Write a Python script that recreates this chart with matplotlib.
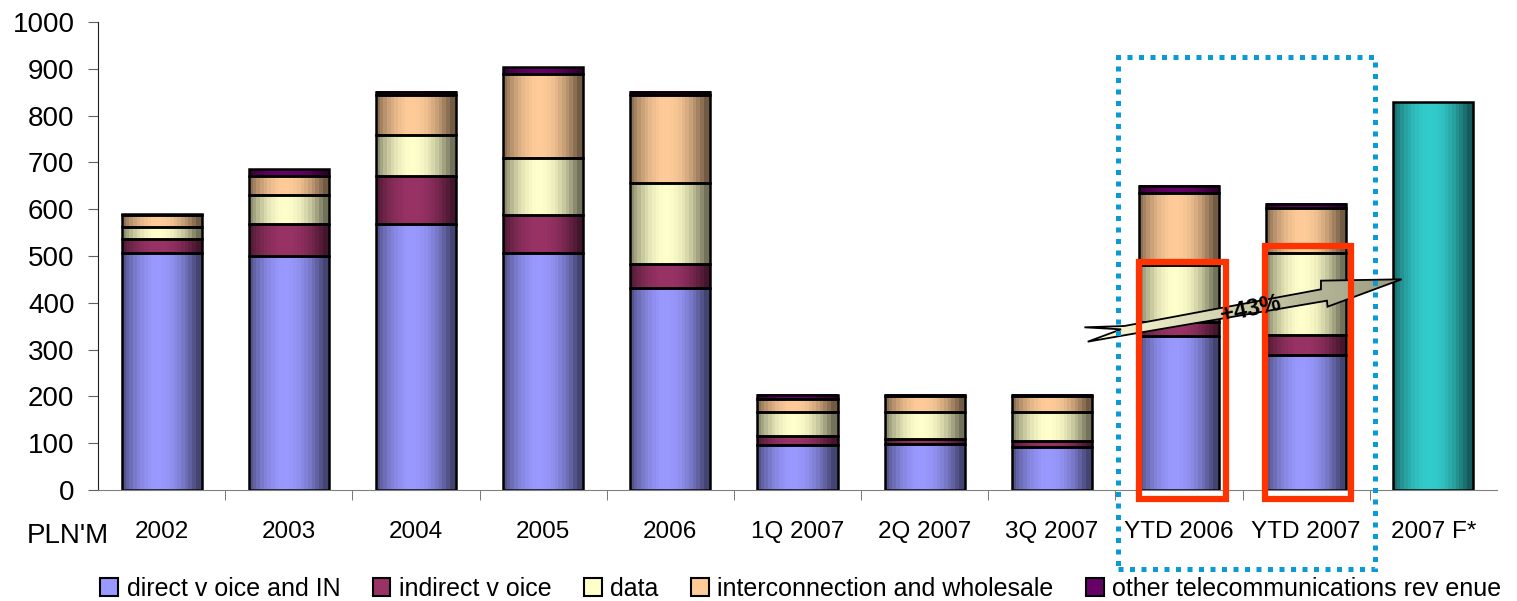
import matplotlib
matplotlib.use("Agg")
import matplotlib.pyplot as plt
import numpy as np
from matplotlib.patches import Rectangle, Polygon, Patch
from matplotlib.colors import to_rgb

# PLN'M
categories = ['2002', '2003', '2004', '2005', '2006', '1Q 2007', '2Q 2007',
              '3Q 2007', 'YTD 2006', 'YTD 2007', '2007 F*']
direct = [506, 499, 568, 506, 432, 96, 98, 91, 328, 288, 0]
indirect = [30, 69, 104, 82, 50, 20, 11, 13, 30, 43, 0]
data = [25, 62, 87, 122, 173, 50, 57, 62, 122, 175, 0]
interconn = [26, 42, 85, 179, 189, 28, 35, 35, 155, 96, 0]
other = [2, 14, 7, 14, 7, 10, 3, 3, 15, 10, 0]
forecast = [0, 0, 0, 0, 0, 0, 0, 0, 0, 0, 828]

series = ['direct v oice and IN', 'indirect v oice', 'data',
          'interconnection and wholesale', 'other telecommunications rev enue']
colors = ['#9999FF', '#993366', '#FFFFCC', '#FFCC99', '#660066']
forecast_color = '#33CCCC'
growth_label = '+43%'

plt.rcParams['font.family'] = ['Liberation Sans', 'DejaVu Sans']

fig = plt.figure(figsize=(15.17, 6.01), dpi=100)
ax = fig.add_axes([0.0646, 0.1847, 0.9222, 0.7787])

x = np.arange(len(categories))
width = 0.63


def shaded(rect, color, z=2):
    # cylinder-ish horizontal shading like the old Excel bars
    t = np.linspace(0, 1, 22)
    f = 0.45 + 0.55 * np.clip(1 - ((t - 0.45) / 0.5) ** 2, 0, 1)
    rgb = np.array(to_rgb(color))
    img = (f[:, None] * rgb[None, :])[None, :, :]
    x0, y0 = rect.get_x(), rect.get_y()
    w, h = rect.get_width(), rect.get_height()
    ax.imshow(img, extent=(x0, x0 + w, y0, y0 + h), aspect='auto',
              interpolation='nearest', zorder=z)
    rect.set_facecolor('none')
    rect.set_edgecolor('black')
    rect.set_linewidth(1.8)
    rect.set_zorder(z + 0.5)


bottom = np.zeros(len(categories))
for vals, col in zip([direct, indirect, data, interconn, other], colors):
    vals = np.array(vals, dtype=float)
    bars = ax.bar(x, vals, width, bottom=bottom)
    for r, v in zip(bars, vals):
        if v > 0:
            shaded(r, col)
        else:
            r.set_visible(False)
    bottom += vals

fbars = ax.bar(x, forecast, width)
for r, v in zip(fbars, forecast):
    if v > 0:
        shaded(r, forecast_color)
    else:
        r.set_visible(False)

# growth arrow between YTD bars and the forecast
arrow_pts = np.array([(7.256, 347.6), (7.570, 350.4), (9.116, 428.8), (9.116, 447.3),
                      (9.750, 450.2), (9.168, 391.7), (9.163, 404.5), (7.583, 331.2),
                      (7.282, 316.9), (7.544, 343.3)])
arrow = Polygon(arrow_pts, closed=True, facecolor='none', edgecolor='black',
                linewidth=1.3, zorder=6)
ax.add_patch(arrow)
grad = np.linspace(0, 1, 64)
light, dark = np.array(to_rgb('#FFFFD8')), np.array(to_rgb('#9A9A80'))
gimg = (light[None, :] * (1 - grad[:, None]) + dark[None, :] * grad[:, None])[None, :, :]
gi = ax.imshow(gimg, extent=(7.25, 9.76, 310, 455), aspect='auto', zorder=5.5)
gi.set_clip_path(arrow)

# red frames around the YTD bars
for x0, x1, top in [(7.686, 8.37, 488), (8.676, 9.35, 521)]:
    ax.add_patch(Rectangle((x0, -19), x1 - x0, top + 19, fill=False,
                           edgecolor='#FF3300', linewidth=4.5, zorder=7,
                           clip_on=False))

ax.text(8.566, 386, growth_label, rotation=12, fontsize=17, fontweight='bold',
        ha='center', va='center', zorder=8)

# dotted blue frame around YTD comparison
ax.add_patch(Rectangle((7.52, -169), 2.02, 1094, fill=False, edgecolor='#0A9AD8',
                       linewidth=3.6, linestyle=(0, (1.0, 1.3)), zorder=7,
                       clip_on=False))

ax.set_xlim(-0.5, len(categories) - 0.5)
ax.set_ylim(0, 1000)
ax.set_yticks(np.arange(0, 1001, 100))
ax.tick_params(axis='y', labelsize=20, length=7, color='#606060', pad=10)
ax.set_xticks(x)
ax.set_xticklabels(categories, fontsize=17.5)
ax.tick_params(axis='x', which='major', length=0, pad=22)
ax.set_xticks(np.arange(0.5, len(categories) - 0.5, 1), minor=True)
ax.tick_params(axis='x', which='minor', length=7, color='#606060')
for s in ['top', 'right']:
    ax.spines[s].set_visible(False)
ax.spines['left'].set_color('#202020')
ax.spines['bottom'].set_color('#808080')

fig.text(0.0178, 0.108, "PLN'M", fontsize=20, va='center', ha='left')

handles = [Patch(facecolor=c, edgecolor='black', linewidth=1.5) for c in colors]
fig.legend(handles, series, loc='center', bbox_to_anchor=(0.528, 0.02), ncol=5,
           frameon=False, prop={'size': 18},
           handlelength=0.7, handleheight=0.7, handletextpad=0.35,
           columnspacing=1.3, borderaxespad=0)

fig.savefig('out.png', dpi=100)
